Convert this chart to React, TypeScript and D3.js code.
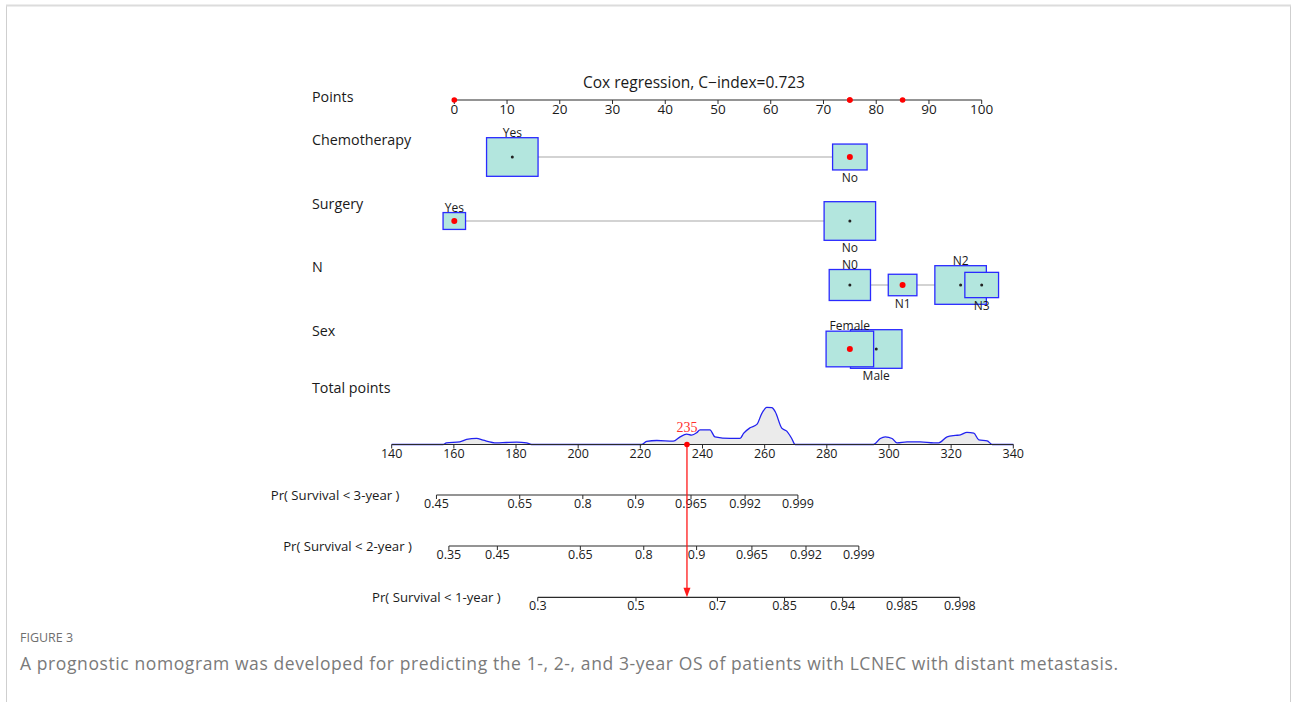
import React, { useEffect } from "react";
import * as d3 from "d3";

const W = 1292;
const H = 702;

// ---------- data ----------
const pointTicks = [0, 10, 20, 30, 40, 50, 60, 70, 80, 90, 100];
const totalTicks = [140, 160, 180, 200, 220, 240, 260, 280, 300, 320, 340];

const chemoLevels = ["Yes", "No"];
const chemoPoints = [11, 75];
const chemoFreq = [0.69, 0.31];

const surgeryLevels = ["Yes", "No"];
const surgeryPoints = [0, 75];
const surgeryFreq = [0.16, 0.84];

const nLevels = ["N0", "N1", "N2", "N3"];
const nPoints = [75, 85, 96, 100];
const nFreq = [0.27, 0.13, 0.42, 0.18];

const sexLevels = ["Female", "Male"];
const sexPoints = [75, 80];
const sexFreq = [0.46, 0.54];

const variableNames = ["Chemotherapy", "Surgery", "N", "Sex"];
const selectedLevels = ["No", "Yes", "N1", "Female"];
const selectedPoints = [75, 0, 85, 75];
const totalScore = 235;

// density of total points (relative units)
const densityT = [140, 156.5, 157.6, 161.9, 164.1, 167.3, 169.4, 173.7, 176.9, 180.2, 183.4, 185,
  220.4, 222, 225.3, 230.6, 232.8, 234.9, 236.5, 238.1, 239.2, 242.4, 244, 248.9, 252.1, 253.2,
  255.3, 257.5, 259.1, 260.7, 262.3, 263.4, 265.5, 267.1, 268.7, 269.8,
  295, 297.2, 298.8, 301, 302.6, 305.8, 310.1, 314.4, 316, 318.7, 321.4, 323, 325.1, 327.3,
  328.9, 331.6, 333.2, 340];
const densityV = [0, 0, 1.6, 2.6, 5, 6, 4.3, 1.6, 2, 2.3, 1.6, 0,
  0, 3, 4, 3.3, 7.6, 10.3, 9.3, 11.6, 14.6, 14.6, 7.6, 6, 6, 11,
  16.6, 20, 31, 37, 36.6, 32.6, 16.3, 13.3, 6, 0,
  0, 6, 7.6, 6, 1.6, 2.6, 2.6, 1.6, 1.6, 7.6, 9, 9.6, 12, 11.3,
  4.6, 3.6, 0, 0];

const prLabels = ["Pr( Survival < 3-year )", "Pr( Survival < 2-year )", "Pr( Survival < 1-year )"];
const pr3Ticks = ["0.45", "0.65", "0.8", "0.9", "0.965", "0.992", "0.999"];
const pr3Totals = [154.4, 181.2, 201.5, 218.5, 236.3, 253.7, 270.7];
const pr2Ticks = ["0.35", "0.45", "0.65", "0.8", "0.9", "0.965", "0.992", "0.999"];
const pr2Totals = [158.4, 174.0, 200.7, 221.1, 238.1, 255.9, 273.3, 290.3];
const pr1Ticks = ["0.3", "0.5", "0.7", "0.85", "0.94", "0.985", "0.998"];
const pr1Totals = [187.0, 218.6, 244.8, 266.4, 285.1, 304.2, 322.8];

const titleText = "Cox regression, C\u2212index=0.723";
const captionHead = "FIGURE 3";
const captionText =
  "A prognostic nomogram was developed for predicting the 1-, 2-, and 3-year OS of patients with LCNEC with distant metastasis.";

// ---------- layout ----------
const FONT = "'Open Sans', 'DejaVu Sans', sans-serif";
const xPts = d3.scaleLinear().domain([0, 100]).range([454.3, 981.7]);
const xTot = d3.scaleLinear().domain([140, 340]).range([391.7, 1013.3]);
const AXIS_PTS_Y = 100;
const AXIS_TOT_Y = 444.5;
const ROW_Y = [157, 221, 285, 349];
const PR_Y = [495, 546, 597.3];
const LABEL_X = 312;
const BOX_MAX_W = 51.5;
const BOX_RATIO = 0.75;

const variables = [
  { levels: chemoLevels, points: chemoPoints, freq: chemoFreq },
  { levels: surgeryLevels, points: surgeryPoints, freq: surgeryFreq },
  { levels: nLevels, points: nPoints, freq: nFreq },
  { levels: sexLevels, points: sexPoints, freq: sexFreq },
];

const prAxes = [
  { ticks: pr3Ticks, totals: pr3Totals },
  { ticks: pr2Ticks, totals: pr2Totals },
  { ticks: pr1Ticks, totals: pr1Totals },
];

const AXIS_COLOR = "#2a2a2a";
const TEXT_COLOR = "#1a1a1a";

function VariableRow({ v, i }: { v: any; i: number }) {
  const cy = ROW_Y[i];
  const maxF = d3.max(v.freq as number[]) as number;
  const wScale = d3.scaleSqrt().domain([0, maxF]).range([0, BOX_MAX_W]);
  const items = v.levels.map((lev: string, k: number) => {
    const w = wScale(v.freq[k]);
    const h = w * BOX_RATIO;
    return { lev, k, x: xPts(v.points[k]), w, h, f: v.freq[k] };
  });
  const order = [...items].sort((a, b) => b.f - a.f);
  const xs = items.map((d: any) => d.x);
  return (
    <g>
      <line x1={d3.min(xs)} x2={d3.max(xs)} y1={cy} y2={cy} stroke="#c4c4c4" strokeWidth={1.5} />
      {order.map((d: any) => (
        <g key={d.lev}>
          <rect x={d.x - d.w / 2} y={cy - d.h / 2} width={d.w} height={d.h}
            fill="#b3e6de" stroke="#2a2aff" strokeWidth={1.3} />
          {selectedLevels[i] === d.lev ? (
            <circle cx={d.x} cy={cy} r={3} fill="#ff0000" />
          ) : (
            <circle cx={d.x} cy={cy} r={1.5} fill="#222" />
          )}
        </g>
      ))}
      {items.map((d: any) => (
        <text key={"t" + d.lev} x={d.x} y={d.k % 2 === 0 ? cy - d.h / 2 - 5.5 : cy + d.h / 2 + 7.5}
          textAnchor="middle" dominantBaseline="central" fontSize={12} fill={TEXT_COLOR}>
          {d.lev}
        </text>
      ))}
    </g>
  );
}

export default function App() {
  useEffect(() => {
    document.body.style.margin = "0";
  }, []);

  const densData = densityT.map((t, k) => [t, densityV[k]] as [number, number]);
  const yDen = d3.scaleLinear().domain([0, d3.max(densityV) as number]).range([AXIS_TOT_Y, 407.3]);
  const area = d3.area<[number, number]>()
    .x((d) => xTot(d[0])).y0(AXIS_TOT_Y).y1((d) => yDen(d[1])).curve(d3.curveMonotoneX);
  const line = d3.line<[number, number]>()
    .x((d) => xTot(d[0])).y((d) => yDen(d[1])).curve(d3.curveMonotoneX);

  const rowLabels = ["Points", ...variableNames, "Total points"];
  const rowLabelY = [96, 139, 203, 266, 330, 387];

  const redX = xTot(totalScore);

  return (
    <svg width={W} height={H} style={{ position: "fixed", left: 0, top: 0, display: "block", background: "#fff" }}
      fontFamily={FONT}>
      <rect x={0} y={0} width={W} height={H} fill="#fff" />
      {/* frame */}
      <rect x={6.5} y={5.5} width={1284} height={760} fill="none" stroke="#cfcfcf" strokeWidth={1} />
      <line x1={6} x2={1291} y1={5.5} y2={5.5} stroke="#dcdcdc" strokeWidth={2} />

      {/* title */}
      <text x={694} y={82} textAnchor="middle" dominantBaseline="central" fontSize={15.5} fill={TEXT_COLOR}>
        {titleText}
      </text>

      {/* row labels */}
      {rowLabels.map((l, k) => (
        <text key={l} x={LABEL_X} y={rowLabelY[k]} dominantBaseline="central" fontSize={14.3} fill={TEXT_COLOR}>
          {l}
        </text>
      ))}

      {/* points axis */}
      <line x1={xPts(0)} x2={xPts(100)} y1={AXIS_PTS_Y} y2={AXIS_PTS_Y} stroke={AXIS_COLOR} strokeWidth={1.2} />
      {pointTicks.map((t) => (
        <g key={t}>
          <line x1={xPts(t)} x2={xPts(t)} y1={AXIS_PTS_Y} y2={AXIS_PTS_Y + 4} stroke={AXIS_COLOR} strokeWidth={1} />
          <text x={xPts(t)} y={AXIS_PTS_Y + 8.5} textAnchor="middle" dominantBaseline="central" fontSize={13.5} fill={TEXT_COLOR}>
            {t}
          </text>
        </g>
      ))}
      {selectedPoints.map((p, k) => (
        <circle key={k} cx={xPts(p)} cy={AXIS_PTS_Y} r={2.8} fill="#ff0000" />
      ))}

      {/* variable rows */}
      {variables.map((v, i) => (
        <VariableRow key={i} v={v} i={i} />
      ))}

      {/* density */}
      <path d={area(densData) || ""} fill="#ebebeb" stroke="none" />
      <path d={line(densData) || ""} fill="none" stroke="#2222f0" strokeWidth={1.3} />

      {/* total points axis */}
      <line x1={xTot(140)} x2={xTot(340)} y1={AXIS_TOT_Y} y2={AXIS_TOT_Y} stroke={AXIS_COLOR} strokeWidth={1.2} />
      {totalTicks.map((t) => (
        <g key={t}>
          <line x1={xTot(t)} x2={xTot(t)} y1={AXIS_TOT_Y} y2={AXIS_TOT_Y + 4} stroke={AXIS_COLOR} strokeWidth={1} />
          <text x={xTot(t)} y={AXIS_TOT_Y + 9} textAnchor="middle" dominantBaseline="central" fontSize={12.5} fill={TEXT_COLOR}>
            {t}
          </text>
        </g>
      ))}

      {/* probability axes */}
      {prAxes.map((ax, i) => {
        const y = PR_Y[i];
        const x0 = xTot(ax.totals[0]);
        const x1 = xTot(ax.totals[ax.totals.length - 1]);
        return (
          <g key={i}>
            <text x={x0 - 37} y={y} textAnchor="end" dominantBaseline="central" fontSize={13.2} fill={TEXT_COLOR}>
              {prLabels[i]}
            </text>
            <line x1={x0} x2={x1} y1={y} y2={y} stroke={AXIS_COLOR} strokeWidth={1.2} />
            {ax.totals.map((t, k) => (
              <g key={k}>
                <line x1={xTot(t)} x2={xTot(t)} y1={y} y2={y + 4} stroke={AXIS_COLOR} strokeWidth={1} />
                <text x={xTot(t)} y={y + 8.5} textAnchor="middle" dominantBaseline="central" fontSize={12.5} fill={TEXT_COLOR}>
                  {ax.ticks[k]}
                </text>
              </g>
            ))}
          </g>
        );
      })}

      {/* red score marker */}
      <text x={redX} y={427} textAnchor="middle" dominantBaseline="central" fontSize={14}
        fontFamily="'Liberation Serif', 'DejaVu Serif', serif" fill="#ff3030">
        {totalScore}
      </text>
      <line x1={redX} x2={redX} y1={AXIS_TOT_Y} y2={PR_Y[2] - 6} stroke="#ff1a1a" strokeWidth={1.3} />
      <path d={`M${redX - 3.5},${PR_Y[2] - 9.5} L${redX + 3.5},${PR_Y[2] - 9.5} L${redX},${PR_Y[2]} Z`} fill="#ff1a1a" />
      <circle cx={redX} cy={AXIS_TOT_Y} r={2.8} fill="#ff0000" />

      {/* caption */}
      <text x={20} y={637} dominantBaseline="central" fontSize={13} fill="#6e6e6e" textLength={53} lengthAdjust="spacingAndGlyphs">
        {captionHead}
      </text>
      <text x={20} y={663} dominantBaseline="central" fontSize={17.5} fill="#7a7a7a" textLength={1098} lengthAdjust="spacing">
        {captionText}
      </text>
    </svg>
  );
}
